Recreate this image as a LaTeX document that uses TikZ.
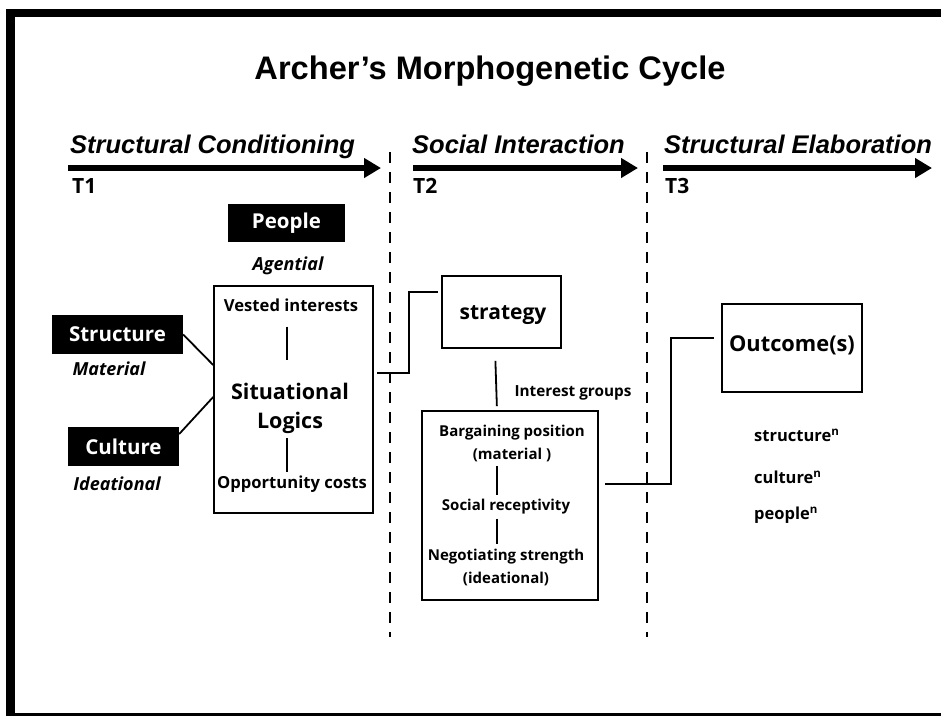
\documentclass[tikz,border=0pt]{standalone}
\usepackage{fontspec}
\setmainfont{Open Sans}
\newfontfamily\headfont{Liberation Sans}
\usetikzlibrary{arrows.meta}
\begin{document}
\begin{tikzpicture}[x=1pt,y=-1pt,
  every node/.style={inner sep=0pt},
  titletext/.style={font=\headfont\bfseries\fontsize{32.6}{36}\selectfont},
  phase/.style={font=\headfont\bfseries\itshape\fontsize{25.5}{28}\selectfont,anchor=base west},
  tlabel/.style={font=\bfseries\fontsize{21}{24}\selectfont,anchor=base west},
  phasearrow/.style={line width=5.5pt,-{Triangle[length=17pt,width=19pt]}},
  divider/.style={line width=1.8pt,dash pattern=on 11pt off 9pt},
  blackbox/.style={fill=black,text=white,font=\bfseries\fontsize{20.5}{24}\selectfont},
  aspect/.style={font=\bfseries\itshape\fontsize{18}{22}\selectfont},
  frame/.style={draw=black,line width=1.6pt},
  inner/.style={font=\bfseries\fontsize{16.6}{20}\selectfont},
  big/.style={font=\bfseries\fontsize{21.5}{29}\selectfont,align=center},
  grp/.style={font=\bfseries\fontsize{15}{23}\selectfont,align=center},
  link/.style={line width=1.8pt},
  tick/.style={line width=1.5pt},
  result/.style={font=\bfseries\fontsize{16.5}{20}\selectfont,anchor=west}
]
\useasboundingbox (0,0) rectangle (941,716);

% page frame: heavy bars on the left and top, thin rule at the bottom
\fill (6,9) rectangle (15,716);
\fill (6,9) rectangle (941,17);
\fill (6,713) rectangle (941,716);

% title
\node[titletext,anchor=base] (title) at (490,79) {Archer’s Morphogenetic Cycle};

% the three phases along the time line
\node[phase] (ph1) at (70,153) {Structural Conditioning};
\node[phase] (ph2) at (412,153) {Social Interaction};
\node[phase] (ph3) at (664,153) {Structural Elaboration};
\coordinate (a1s) at (68,168);  \coordinate (a1e) at (381,168);
\coordinate (a2s) at (413,168); \coordinate (a2e) at (638,168);
\coordinate (a3s) at (663,168); \coordinate (a3e) at (932,168);
\draw[phasearrow] (a1s) -- (a1e);
\draw[phasearrow] (a2s) -- (a2e);
\draw[phasearrow] (a3s) -- (a3e);
\node[tlabel] (t1) at (72,193) {T1};
\node[tlabel] (t2) at (413,193) {T2};
\node[tlabel] (t3) at (665,193) {T3};

% phase boundaries
\coordinate (d1t) at (390,152); \coordinate (d1b) at (390,637);
\coordinate (d2t) at (647,152); \coordinate (d2b) at (647,637);
\draw[divider] (d1t) -- (d1b);
\draw[divider] (d2t) -- (d2b);

% T1: structural conditioning
\node[blackbox,minimum width=117pt,minimum height=38pt] (people) at (286.5,223) {People};
\node[aspect] (agential) at (288,266) {Agential};
\node[blackbox,minimum width=131pt,minimum height=39pt] (structure) at (117.5,334.5) {Structure};
\node[aspect] (material) at (109,369) {Material};
\node[blackbox,minimum width=111pt,minimum height=39pt] (culture) at (123.5,446.5) {Culture};
\node[aspect] (ideational) at (117,484) {Ideational};

\node[frame,minimum width=159pt,minimum height=227pt] (sit) at (293.5,399.5) {};
\node[inner] (vested) at (291,305) {Vested interests};
\node[big] (logics) at (290,408) {Situational\\Logics};
\node[inner] (opp) at (292,484) {Opportunity costs};
\draw[tick,shorten <=15pt,shorten >=23pt] ([xshift=-4pt]vested.south) -- ([xshift=-3pt]logics.north);
\draw[tick,shorten <=5pt,shorten >=4pt] ([xshift=-3pt]logics.south) -- ([xshift=-5pt]opp.north);

\draw[link] (structure.east) -- ([yshift=34.5pt]sit.west);
\draw[link] ([yshift=12.5pt]culture.east) -- ([yshift=2.5pt]sit.west);

% T2: social interaction
\node[frame,minimum width=119pt,minimum height=72pt] (strategy) at (501.5,312) {};
\node[font=\bfseries\fontsize{21}{24}\selectfont] (strategytext) at (503,315) {strategy};
\node[font=\bfseries\fontsize{15.3}{18}\selectfont] (interest) at (573,393) {Interest groups};
\node[frame,minimum width=176pt,minimum height=189pt] (groups) at (510,505.5) {};
\node[grp] (bargain) at (512,443) {Bargaining position\\(material )};
\node[grp] (recept) at (506,507) {Social receptivity};
\node[grp] (negot) at (506,567) {Negotiating strength\\(ideational)};
\draw[tick,shorten <=4pt,shorten >=4pt] ([xshift=-15pt]bargain.south) -- ([xshift=-9pt]recept.north);
\draw[tick,shorten <=4pt,shorten >=4pt] ([xshift=-9pt]recept.south) -- ([xshift=-9pt]negot.north);

\draw[link,shorten <=3pt,shorten >=3pt] ([yshift=26.5pt]sit.east) -- ++(35,0) |- ([yshift=20pt]strategy.west);
\draw[link,shorten <=12pt,shorten >=4pt] ([xshift=-6.5pt]strategy.south) -- ([xshift=-13pt]groups.north);

% T3: structural elaboration
\node[frame,minimum width=140pt,minimum height=88pt] (outcome) at (792,348) {};
\node[font=\bfseries\fontsize{21.8}{24}\selectfont] (outcometext) at (792,345) {Outcome(s)};
\draw[link,shorten <=6pt,shorten >=7pt] ([yshift=21.5pt]groups.east) -- ++(72,0) |- ([yshift=10pt]outcome.west);

\node[result] (sn) at (754,435) {structure\textsuperscript{n}};
\node[result] (cn) at (754,477) {culture\textsuperscript{n}};
\node[result] (pn) at (754,515) {people\textsuperscript{n}};
\end{tikzpicture}
\end{document}
